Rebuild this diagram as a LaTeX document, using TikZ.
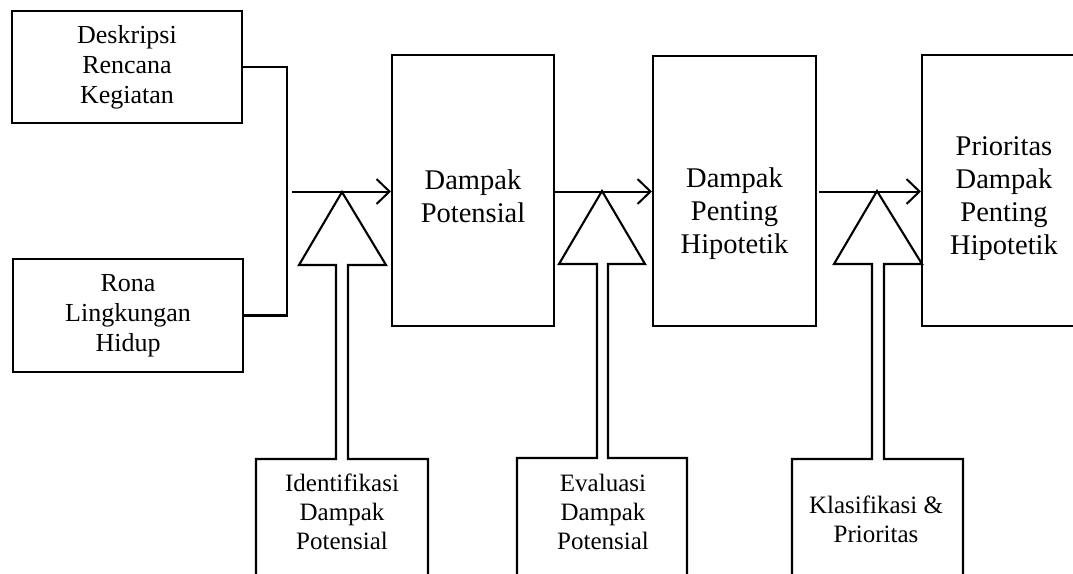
\documentclass[tikz,border=0pt]{standalone}
\usepackage{fontspec}
\setmainfont{Liberation Serif}
\usetikzlibrary{arrows.meta}
\begin{document}
\begin{tikzpicture}[x=1pt,y=-1pt, line width=2.1pt,
  box/.style={draw, rectangle, inner sep=0pt, align=center},
  lefttxt/.style={font=\fontsize{26}{30}\selectfont},
  bigtxt/.style={align=center, inner sep=0pt, font=\fontsize{28.5}{33}\selectfont},
  smalltxt/.style={align=center, inner sep=0pt, font=\fontsize{25}{29}\selectfont},
  arr/.style={-{Straight Barb[length=13pt,width=25pt]}, line width=2pt}]
\useasboundingbox (0,0) rectangle (1073,573);
\clip (0,0) rectangle (1073,573);

% input boxes
\node[box, lefttxt, minimum width=230pt, minimum height=112pt] (desk) at (127,67) {Deskripsi\\Rencana\\Kegiatan};
\node[box, lefttxt, minimum width=230pt, minimum height=113pt] (rona) at (128,315.5) {Rona\\Lingkungan\\Hidup};

% main boxes
\node[box, minimum width=162pt, minimum height=271pt] (pot) at (473,190.5) {};
\node[box, minimum width=163pt, minimum height=270pt] (pent) at (734.5,191) {};
\node[box, minimum width=164pt, minimum height=271pt] (prio) at (1004,190.5) {};
\node[bigtxt] (potT) at (473,196.5) {Dampak\\Potensial};
\node[bigtxt] (pentT) at (734.5,214) {Dampak\\Penting\\Hipotetik};
\node[bigtxt] (prioT) at (1004,198.6) {Prioritas\\Dampak\\Penting\\Hipotetik};

% junction of the two inputs
\coordinate (jn) at (287,191);
\draw (desk.east) -| (jn) |- (rona.east);

% flow arrows
\coordinate (a1) at (292,191.5);
\coordinate (a3) at (819,191.5);
\draw[arr] (a1) -- (a1 -| pot.west);
\draw[arr] (pot.east |- a1) -- (a1 -| pent.west);
\draw[arr] (a3) -- (a3 -| prio.west);

% process boxes with open-arrow stems
\draw (256,580) |- (336,459) |- (299,265) -- (342,192) -- (386,265) -| (348,459) -| (428,580);
\draw (517,580) |- (597,458) |- (559,264) -- (602,191) -- (645,264) -| (608,458) -| (687,580);
\draw (792,580) |- (872,459) |- (834,264) -- (877,191) -- (922,264) -| (884,459) -| (963,580);

\node[smalltxt] (iden) at (342,511.5) {Identifikasi\\Dampak\\Potensial};
\node[smalltxt] (eval) at (603,512) {Evaluasi\\Dampak\\Potensial};
\node[smalltxt] (klas) at (876,519) {Klasifikasi \&\\Prioritas};
\end{tikzpicture}
\end{document}
